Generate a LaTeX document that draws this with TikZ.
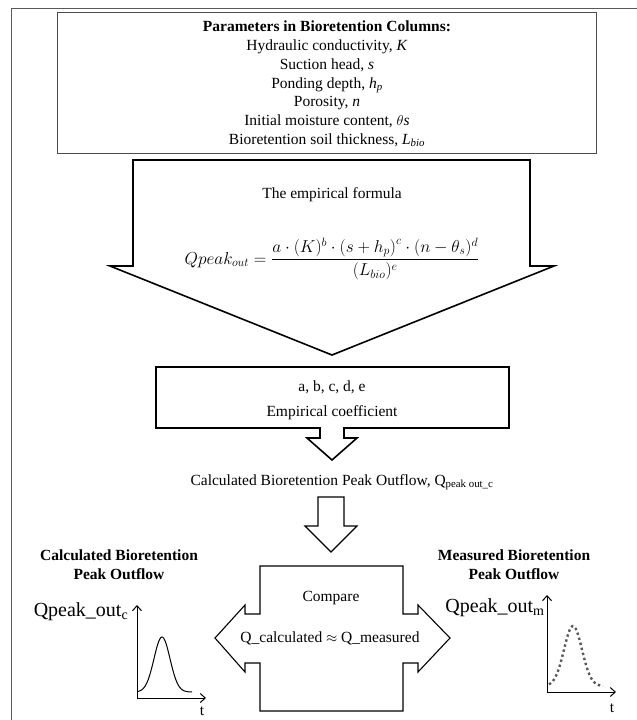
\documentclass[tikz,border=0pt]{standalone}
\usepackage{amsmath,amssymb}
\usepackage{fontspec}
\setmainfont{Liberation Serif}
\usepackage{tikz}
\usetikzlibrary{positioning,calc,arrows.meta}

\tikzset{
  blk/.style={draw=black,line width=1.6pt,line join=miter},
  blkthin/.style={draw=black,line width=1.1pt,line join=miter},
  txt/.style={font=\fontsize{15.5}{18.7}\selectfont,align=center,inner sep=0pt},
  bold txt/.style={txt,font=\bfseries\fontsize{15.5}{18.7}\selectfont},
  bigq/.style={font=\fontsize{20}{24}\selectfont,inner sep=0pt},
  axis/.style={line width=1pt,-{Straight Barb[length=5pt,width=9pt]}},
}

\begin{document}
\begin{tikzpicture}[x=1pt,y=-1pt]
\useasboundingbox (0,0) rectangle (637,720);
\draw[gray!70!black,line width=.8pt] (11,720) -- (11,8) -- (637,8);

\node[draw=gray!60!black,line width=1pt,minimum width=539pt,minimum height=141pt,inner sep=0pt] (params) at (326.5,82.5) {};
\node[txt] (plist) at (327,84) {\textbf{Parameters in Bioretention Columns:}\\
Hydraulic conductivity, \textit{K}\\ Suction head, \textit{s}\\
Ponding depth, \textit{h}\textsubscript{\textit{p}}\\ Porosity, \textit{n}\\
Initial moisture content, $\theta$\textit{s}\\
Bioretention soil thickness, \textit{L}\textsubscript{\textit{bio}}};

\draw[blk] (133,160) -- (530,160) -- (530,266) -- (554,266) -- (332,355) -- (110,266) -- (133,266) -- cycle;
\node[txt] (formtitle) at (332,195) {The empirical formula};
\node[txt,font=\fontsize{16.5}{20}\selectfont] (formula) at (332,259) {$\displaystyle Qpeak_{out}=\frac{a\cdot(K)^b\cdot\left(s+h_p\right)^c\cdot(n-\theta_s)^d}{(L_{bio})^e}$};

\draw[blk] (156,367) -- (509,367) -- (509,428) -- (344,428) -- (344,438) -- (357,438) -- (332,460) -- (307,438) -- (320,438) -- (320,428) -- (156,428) -- cycle;
\node[txt] (coefs) at (332,387) {a, b, c, d, e};
\node[txt] (coefname) at (332,413) {Empirical coefficient};

\node[txt] (qcalc) at (342,482) {Calculated Bioretention Peak Outflow, Q\textsubscript{peak out\_c}};

\draw[blkthin] (318,497) -- (344,497) -- (344,526) -- (357,526) -- (331,552) -- (305,526) -- (318,526) -- cycle;

\draw[blkthin] (260,566) -- (403,566) -- (403,614) -- (418,614) -- (418,605) -- (450,638) -- (418,672) -- (418,663) -- (403,663) -- (403,711) -- (260,711) -- (260,663) -- (245,663) -- (245,672) -- (215,638) -- (245,605) -- (245,614) -- (260,614) -- cycle;
\node[txt] (cmp) at (331,598) {Compare};
\node[txt] (approx) at (330,638) {Q\_calculated $\approx$ Q\_measured};

\node[bold txt] (calctitle) at (119,565) {Calculated Bioretention\\Peak Outflow};
\node[bigq] (qc) at (81,612) {Qpeak\_out\textsubscript{c}};
\coordinate (oc) at (137,698);
\draw[axis] (oc) -- (137,605);
\draw[axis] (oc) -- (206,698);
\node[txt] (tc) at (202,711) {t};
\draw[line width=1pt] plot[domain=138:192,samples=60,smooth] (\x,{692-55*exp(-((\x-162)*(\x-162))/128)});

\node[bold txt] (meastitle) at (514,565) {Measured Bioretention\\Peak Outflow};
\node[bigq] (qm) at (495,608) {Qpeak\_out\textsubscript{m}};
\coordinate (om) at (547,692);
\draw[axis] (om) -- (547,595);
\draw[axis] (om) -- (616,692);
\node[txt] (tm) at (612,708) {t};
\draw[gray!70!black,line width=2.4pt,dash pattern=on 2.4pt off 2.8pt] plot[domain=549:603,samples=60,smooth] (\x,{686-60*exp(-((\x-573)*(\x-573))/162)});
\end{tikzpicture}
\end{document}
